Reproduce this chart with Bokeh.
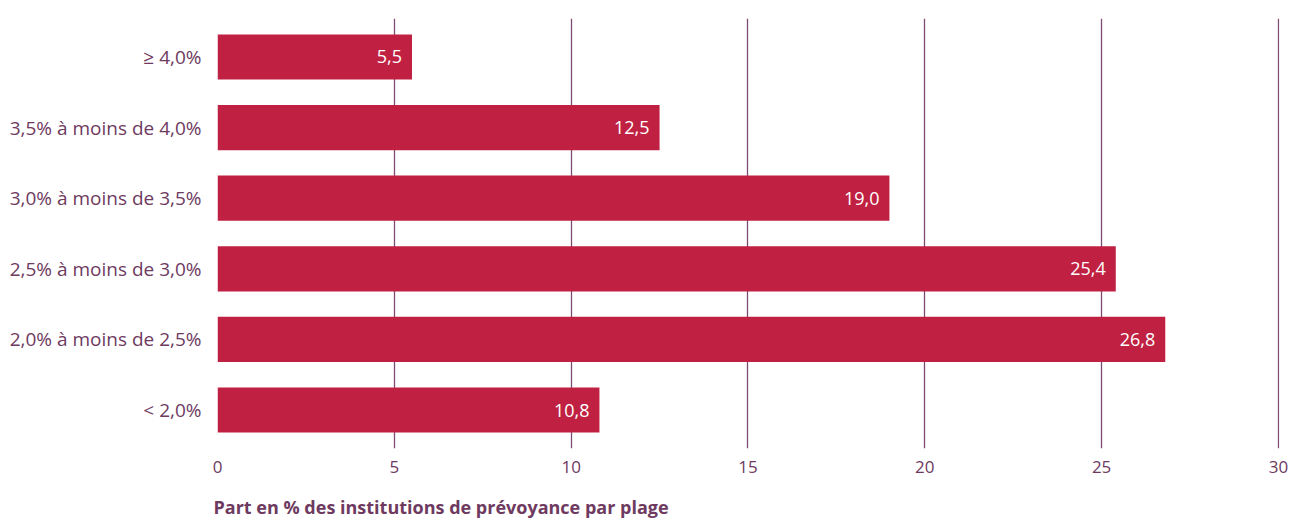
from bokeh.plotting import figure
from bokeh.models import Range1d, FixedTicker, ColumnDataSource, Title
from bokeh.embed import file_html
from bokeh.resources import INLINE
from bokeh.core.properties import value

# Data (top to bottom)
categories = ["≥ 4,0%", "3,5% à moins de 4,0%", "3,0% à moins de 3,5%",
              "2,5% à moins de 3,0%", "2,0% à moins de 2,5%", "< 2,0%"]
shares = [5.5, 12.5, 19.0, 25.4, 26.8, 10.8]
x_ticks = [0, 5, 10, 15, 20, 25, 30]
title_text = "Part en % des institutions de prévoyance par plage"

BAR = "#C02142"
TXT = "#6E3A60"
GRID = "#7D4B72"
FONT = "Open Sans"

n = len(categories)
ypos = [n - 1 - i for i in range(n)]
labels = [f"{v:.1f}".replace(".", ",") for v in shares]
src = ColumnDataSource(dict(y=ypos, v=shares, lab=labels))

p = figure(width=1290, height=523, output_backend="svg", toolbar_location=None,
           x_range=Range1d(0, 30.03), y_range=Range1d(-0.545, n - 1 + 0.545),
           min_border_left=217, min_border_right=11, min_border_top=18,
           min_border_bottom=75)
p.outline_line_color = None
p.background_fill_color = "white"
p.border_fill_color = "white"

p.hbar(y="y", right="v", left=0, height=0.64, source=src, color=BAR, line_color=None)
p.text(x="v", y="y", text="lab", source=src, x_offset=-10, text_align="right",
       text_baseline="middle", text_color="white", text_font=value(FONT),
       text_font_size="18px")

p.xaxis.ticker = FixedTicker(ticks=x_ticks)
p.xaxis.axis_line_color = None
p.xaxis.major_tick_line_color = None
p.xaxis.minor_tick_line_color = None
p.xaxis.major_tick_out = 0
p.xaxis.major_label_standoff = 12
p.xaxis.major_label_text_font = FONT
p.xaxis.major_label_text_font_size = "17px"
p.xaxis.major_label_text_color = TXT
# blank spacer label to push the bottom title a little lower
p.xaxis.axis_label = " "
p.xaxis.axis_label_standoff = 0
p.xaxis.axis_label_text_font_size = "12px"
p.xaxis.axis_label_text_alpha = 0

p.yaxis.ticker = FixedTicker(ticks=ypos)
p.yaxis.major_label_overrides = {y: c for y, c in zip(ypos, categories)}
p.yaxis.axis_line_color = None
p.yaxis.major_tick_line_color = None
p.yaxis.minor_tick_line_color = None
p.yaxis.major_tick_out = 0
p.yaxis.major_label_standoff = 16
p.yaxis.major_label_text_font = FONT
p.yaxis.major_label_text_font_size = "19px"
p.yaxis.major_label_text_color = TXT

p.xgrid.ticker = FixedTicker(ticks=x_ticks)
p.xgrid.grid_line_color = GRID
p.xgrid.grid_line_width = 1.3
p.ygrid.grid_line_color = None

p.add_layout(Title(text=title_text, align="left", text_font=FONT,
                   text_font_size="18px", text_font_style="bold",
                   text_color=TXT, standoff=0, offset=-4), "below")

open("out.html", "w").write(file_html(p, INLINE))
